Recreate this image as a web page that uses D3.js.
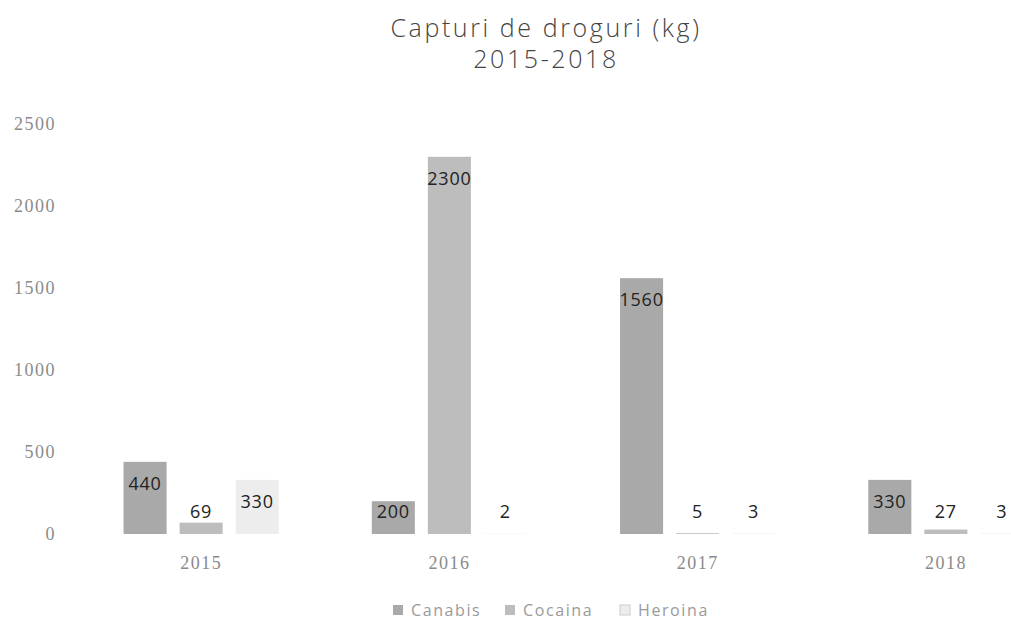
<!DOCTYPE html>
<html>
<head>
<meta charset="utf-8">
<style>
    body { margin: 0; background: #fff; }
    svg { display: block; font-family: 'Open Sans', 'Noto Sans', sans-serif; }
</style>
</head>
<body>
<svg width="1011" height="626"></svg>
<script src="https://d3js.org/d3.v7.min.js"></script>
<script>
    // data
    let years = ["2015", "2016", "2017", "2018"]
    let drugs = ["Canabis", "Cocaina", "Heroina"]
    let canabis = [440, 200, 1560, 330]
    let cocaina = [69, 2300, 5, 27]
    let heroina = [330, 2, 3, 3]
    let yTicks = [0, 500, 1000, 1500, 2000, 2500]
    let titleLines = ["Capturi de droguri (kg)", "2015-2018"]

    let series = [canabis, cocaina, heroina]
    let colors = { Canabis: "#a9a9a9", Cocaina: "#bdbdbd", Heroina: "#ededed" }

    let svg = d3.select("svg")

    let x = d3.scaleBand()
        .domain(years)
        .range([77, 1070])
        .paddingInner(0.375)
        .paddingOuter(0.1875)

    let xInner = d3.scaleBand()
        .domain(drugs)
        .range([0, x.bandwidth()])
        .paddingInner(0.232)

    let y = d3.scaleLinear()
        .domain([0, 2500])
        .range([534, 124])

    // title
    svg.append("g")
        .selectAll("text")
        .data(titleLines)
        .join("text")
        .attr("x", 546)
        .attr("y", (d, i) => 37 + i * 31)
        .attr("text-anchor", "middle")
        .style("font-size", "25px")
        .style("font-weight", 300)
        .style("letter-spacing", "2.6px")
        .style("fill", "#444")
        .text(d => d)

    // y axis labels, no line
    let yAxis = svg.append("g")
        .attr("transform", "translate(56,0)")
        .call(d3.axisLeft(y).tickValues(yTicks).tickFormat(d3.format("d")).tickSize(0).tickPadding(0))
    yAxis.select(".domain").remove()
    yAxis.selectAll("text")
        .style("font-size", "18px")
        .style("letter-spacing", "1.5px")
        .style("font-family", "'Liberation Serif', serif")
        .style("fill", "#8a8a8a")

    // x axis labels
    let xAxis = svg.append("g")
        .attr("transform", "translate(0,548)")
        .call(d3.axisBottom(x).tickSize(0).tickPadding(8))
    xAxis.select(".domain").remove()
    xAxis.selectAll("text")
        .style("font-size", "18px")
        .style("letter-spacing", "1.5px")
        .style("font-family", "'Liberation Serif', serif")
        .style("fill", "#8a8a8a")

    let rows = []
    years.forEach((yr, i) => {
        drugs.forEach((dr, j) => {
            rows.push({ year: yr, drug: dr, value: series[j][i] })
        })
    })

    let groups = svg.append("g")
        .selectAll("g")
        .data(rows)
        .join("g")
        .attr("transform", d => "translate(" + (x(d.year) + xInner(d.drug)) + ",0)")

    groups.append("rect")
        .attr("y", d => y(d.value))
        .attr("width", xInner.bandwidth())
        .attr("height", d => y(0) - y(d.value))
        .style("fill", d => colors[d.drug])

    groups.append("text")
        .attr("x", xInner.bandwidth() / 2)
        .attr("y", d => Math.min(y(d.value) + 22, y(0) - 22))
        .attr("dy", "0.35em")
        .attr("text-anchor", "middle")
        .style("font-size", "18px")
        .style("letter-spacing", "0.8px")
        .style("fill", "#222")
        .text(d => d.value)

    // legend
    let legendX = [393, 505, 620]
    let legend = svg.append("g")
        .selectAll("g")
        .data(drugs)
        .join("g")
        .attr("transform", (d, i) => "translate(" + legendX[i] + ",610)")
    legend.append("rect")
        .attr("y", -5)
        .attr("width", 10)
        .attr("height", 10)
        .style("fill", d => colors[d])
        .style("stroke", d => d == "Heroina" ? "#ccc" : "none")
    legend.append("text")
        .attr("x", 18)
        .attr("dy", "0.35em")
        .style("font-size", "16px")
        .style("letter-spacing", "1.6px")
        .style("fill", "#9a9a9a")
        .text(d => d)
</script>
</body>
</html>
